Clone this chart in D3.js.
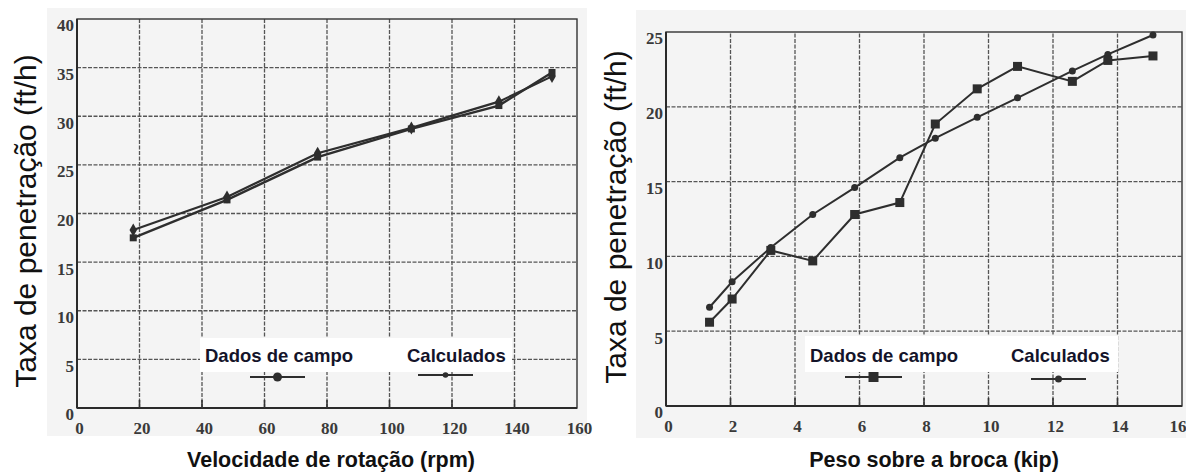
<!DOCTYPE html>
<html><head><meta charset="utf-8">
<script src="https://cdn.jsdelivr.net/npm/d3@7"></script>
<style>
html,body{margin:0;padding:0;background:#fff;}
svg{display:block;}
</style></head>
<body>
<svg id="chart" width="1186" height="472"></svg>
<script>
// ---------- Data ----------
const rpm = [18, 48, 77, 107, 135, 152];
const rpmDados = [17.5, 21.4, 25.8, 28.7, 31.1, 34.5];
const rpmCalc = [18.3, 21.7, 26.2, 28.8, 31.5, 34.1];

const wob = [1.35, 2.05, 3.25, 4.55, 5.85, 7.25, 8.35, 9.65, 10.9, 12.6, 13.7, 15.1];
const wobDados = [5.6, 7.15, 10.4, 9.7, 12.8, 13.6, 18.85, 21.2, 22.7, 21.7, 23.1, 23.4];
const wobCalc = [6.6, 8.3, 10.6, 12.8, 14.6, 16.6, 17.9, 19.3, 20.6, 22.4, 23.5, 24.8];

const leftXTicks = [0, 20, 40, 60, 80, 100, 120, 140, 160];
const leftYTicks = [0, 5, 10, 15, 20, 25, 30, 35, 40];
const rightXTicks = [0, 2, 4, 6, 8, 10, 12, 14, 16];
const rightYTicks = [0, 5, 10, 15, 20, 25];

const yTitle = "Taxa de penetração (ft/h)";
const leftXTitle = "Velocidade de rotação (rpm)";
const rightXTitle = "Peso sobre a broca (kip)";
const legendLabels = ["Dados de campo", "Calculados"];

// ---------- Drawing ----------
const svg = d3.select("#chart");
const INK = "#2e2e2e";

function panel(cfg) {
  const x = d3.scaleLinear().domain(cfg.xDomain).range([cfg.x0, cfg.x1]);
  const y = d3.scaleLinear().domain(cfg.yDomain).range([cfg.y0, cfg.y1]);
  const g = svg.append("g");

  g.append("rect").attr("x", cfg.bg[0]).attr("y", cfg.bg[1])
    .attr("width", cfg.bg[2]).attr("height", cfg.bg[3]).attr("fill", "#f4f4f4");

  const gridX = cfg.xTicks.filter(d => d > cfg.xDomain[0] && d < cfg.xDomain[1]);
  const gridY = cfg.yTicks.filter(d => d > cfg.yDomain[0] && d < cfg.yDomain[1]);
  g.selectAll(".gx").data(gridX).join("line")
    .attr("x1", d => x(d)).attr("x2", d => x(d))
    .attr("y1", y(cfg.yDomain[0])).attr("y2", y(cfg.yDomain[1]))
    .attr("stroke", "#555").attr("stroke-width", 1.3).attr("stroke-dasharray", "4,1.5");
  g.selectAll(".gy").data(gridY).join("line")
    .attr("y1", d => y(d)).attr("y2", d => y(d))
    .attr("x1", x(cfg.xDomain[0])).attr("x2", x(cfg.xDomain[1]))
    .attr("stroke", "#555").attr("stroke-width", 1.3).attr("stroke-dasharray", "4,1.5");

  const lg = cfg.legend;
  g.append("rect").attr("x", lg.box[0]).attr("y", lg.box[1])
    .attr("width", lg.box[2]).attr("height", lg.box[3]).attr("fill", "#fff");

  g.append("rect").attr("x", cfg.x0).attr("y", cfg.y1)
    .attr("width", cfg.x1 - cfg.x0).attr("height", cfg.y0 - cfg.y1)
    .attr("fill", "none").attr("stroke", "#333").attr("stroke-width", 1.4);
  g.append("line").attr("x1", cfg.x0).attr("x2", cfg.x1)
    .attr("y1", cfg.y0).attr("y2", cfg.y0).attr("stroke", "#2a2a2a").attr("stroke-width", 2.2);
  g.append("line").attr("x1", cfg.x0).attr("x2", cfg.x0)
    .attr("y1", cfg.y0).attr("y2", cfg.y1).attr("stroke", "#2a2a2a").attr("stroke-width", 2);

  g.selectAll(".tk").data(gridX).join("line")
    .attr("x1", d => x(d)).attr("x2", d => x(d))
    .attr("y1", cfg.y0).attr("y2", cfg.y0 - 8)
    .attr("stroke", "#333").attr("stroke-width", 1.6);

  const xAxis = g.append("g").attr("transform", `translate(0,${cfg.y0 + 14})`)
    .call(d3.axisBottom(x).tickValues(cfg.xTicks).tickSize(0).tickPadding(0));
  xAxis.select(".domain").remove();
  xAxis.selectAll("text")
    .style("font-family", "'Liberation Serif', serif")
    .style("font-weight", "bold").style("font-size", "17px").attr("fill", "#3a3a3a")
    .attr("dx", 2);
  xAxis.selectAll("text").filter(d => d === cfg.xDomain[1] && cfg.clipLast)
    .attr("text-anchor", "end").attr("dx", 0)
    .attr("x", 1186 - x(cfg.xDomain[1]));

  const yAxis = g.append("g").attr("transform", `translate(${cfg.x0 - 2},0)`)
    .call(d3.axisLeft(y).tickValues(cfg.yTicks).tickSize(0).tickPadding(1));
  yAxis.select(".domain").remove();
  yAxis.selectAll("text")
    .style("font-family", "'Liberation Serif', serif")
    .style("font-weight", "bold").style("font-size", "17px").attr("fill", "#3a3a3a")
    .attr("dy", "0.7em");

  const line = d3.line().x(d => x(d[0])).y(d => y(d[1]));
  cfg.series.forEach(s => {
    const pts = cfg.xs.map((v, i) => [v, s.values[i]]);
    g.append("path").datum(pts).attr("d", line)
      .attr("fill", "none").attr("stroke", INK).attr("stroke-width", s.width);
    const m = g.selectAll(null).data(pts).enter();
    if (s.marker === "square") {
      m.append("rect").attr("x", d => x(d[0]) - s.size / 2).attr("y", d => y(d[1]) - s.size / 2)
        .attr("width", s.size).attr("height", s.size).attr("fill", INK);
    } else if (s.marker === "diamond") {
      m.append("path").attr("transform", d => `translate(${x(d[0])},${y(d[1])})`)
        .attr("d", d3.symbol(d3.symbolDiamond, s.size * s.size)).attr("fill", INK);
    } else {
      m.append("circle").attr("cx", d => x(d[0])).attr("cy", d => y(d[1]))
        .attr("r", s.size / 2).attr("fill", INK);
    }
  });

  lg.items.forEach((it, i) => {
    g.append("text").attr("x", it.tx).attr("y", it.ty).text(legendLabels[i])
      .style("font-family", "'Liberation Sans', Arial, sans-serif").style("font-weight", "bold")
      .style("font-size", "18.5px").attr("fill", "#14142a");
    g.append("line").attr("x1", it.l0).attr("x2", it.l1).attr("y1", it.ly).attr("y2", it.ly)
      .attr("stroke", INK).attr("stroke-width", 2);
    const mx = (it.l0 + it.l1) / 2;
    if (it.marker === "square") {
      g.append("rect").attr("x", mx - 5).attr("y", it.ly - 5).attr("width", 10).attr("height", 10).attr("fill", INK);
    } else {
      g.append("circle").attr("cx", mx).attr("cy", it.ly).attr("r", it.r).attr("fill", INK);
    }
  });

  svg.append("text").attr("transform", `translate(${cfg.yt[0]},${cfg.yt[1]}) rotate(-90)`)
    .attr("text-anchor", "middle").text(yTitle)
    .style("font-family", "'Liberation Sans', Arial, sans-serif").style("font-size", "30px")
    .attr("fill", "#111");
  svg.append("text").attr("x", cfg.xt[0]).attr("y", cfg.xt[1])
    .attr("text-anchor", "middle").text(cfg.xTitle)
    .style("font-family", "'Liberation Sans', Arial, sans-serif").style("font-weight", "bold")
    .style("font-size", "21.5px").attr("fill", "#111");
}

panel({
  xDomain: [0, 160], yDomain: [0, 40], x0: 77, x1: 577, y0: 408, y1: 19,
  xTicks: leftXTicks, yTicks: leftYTicks, xs: rpm, clipLast: false,
  bg: [47, 8, 540, 428],
  series: [
    {values: rpmCalc, marker: "diamond", size: 7, width: 2.2},
    {values: rpmDados, marker: "square", size: 7, width: 2.4}
  ],
  legend: {
    box: [200, 338, 312, 34],
    items: [
      {tx: 205, ty: 362, l0: 250, l1: 305, ly: 377, marker: "circle", r: 4.5},
      {tx: 407, ty: 362, l0: 418, l1: 473, ly: 375, marker: "circle", r: 2.8}
    ]
  },
  yt: [36, 221], xt: [331, 467], xTitle: leftXTitle
});

panel({
  xDomain: [0, 16], yDomain: [0, 25], x0: 666, x1: 1182, y0: 406, y1: 32,
  xTicks: rightXTicks, yTicks: rightYTicks, xs: wob, clipLast: true,
  bg: [636, 10, 550, 428],
  series: [
    {values: wobCalc, marker: "circle", size: 7, width: 2},
    {values: wobDados, marker: "square", size: 9, width: 2}
  ],
  legend: {
    box: [805, 336, 313, 36],
    items: [
      {tx: 810, ty: 362, l0: 845, l1: 902, ly: 377, marker: "square"},
      {tx: 1011, ty: 362, l0: 1031, l1: 1086, ly: 379, marker: "circle", r: 3.5}
    ]
  },
  yt: [626, 217], xt: [934, 467], xTitle: rightXTitle
});
</script>
</body></html>
